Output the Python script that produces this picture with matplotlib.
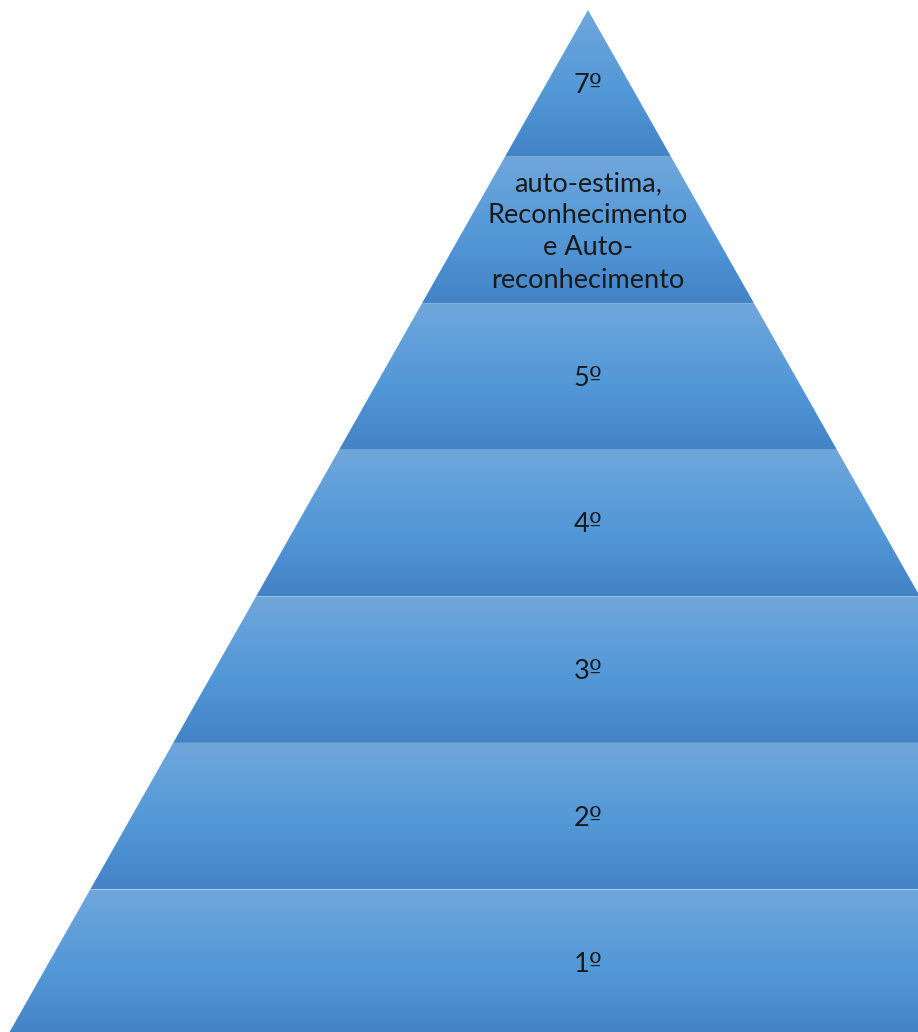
import matplotlib
matplotlib.use("Agg")
import matplotlib.pyplot as plt
import numpy as np
from matplotlib.colors import LinearSegmentedColormap
from matplotlib.patches import Polygon

# Levels from bottom (1º) to top (7º)
levels = ["1º", "2º", "3º", "4º", "5º",
          "auto-estima,\nReconhecimento\ne Auto-\nreconhecimento", "7º"]

plt.rcParams["mathtext.fontset"] = "dejavusans"

W, H = 918, 1032
fig = plt.figure(figsize=(W / 100, H / 100), dpi=100)
ax = fig.add_axes([0, 0, 1, 1])
ax.set_xlim(0, W)
ax.set_ylim(H, 0)
ax.axis("off")

apex_x, apex_y = 588, 10
base_y = 1036
half_base = 0.566 * (base_y - apex_y)
n = len(levels)
band_h = (base_y - apex_y) / n

cmap = LinearSegmentedColormap.from_list(
    "band", [(0.0, "#70a7db"), (0.25, "#62a0da"), (0.55, "#5398d7"),
             (0.85, "#488acc"), (1.0, "#4383c5")])
grad = np.linspace(0, 1, 256).reshape(-1, 1)

def half_w(y):
    return half_base * (y - apex_y) / (base_y - apex_y)

for i, label in enumerate(levels):
    # i = 0 is bottom level
    y_bot = base_y - i * band_h
    y_top = y_bot - band_h
    wt, wb = half_w(y_top), half_w(y_bot)
    poly = Polygon([(apex_x - wt, y_top), (apex_x + wt, y_top),
                    (apex_x + wb, y_bot), (apex_x - wb, y_bot)],
                   closed=True, facecolor="none", edgecolor="none")
    ax.add_patch(poly)
    im = ax.imshow(grad, cmap=cmap, aspect="auto",
                   extent=(apex_x - wb, apex_x + wb, y_bot, y_top),
                   interpolation="bilinear", zorder=1)
    im.set_clip_path(poly)
    shown = label.replace("º", r"$\mathrm{º}$")
    ax.text(apex_x, (y_top + y_bot) / 2 + 2, shown, ha="center", va="center",
            fontsize=19.5, family=["Lato", "DejaVu Sans"], color="#1a1a1a",
            linespacing=1.36, zorder=3)

ax.set_xlim(0, W)
ax.set_ylim(H, 0)
fig.savefig("out.png", dpi=100, facecolor="white")
